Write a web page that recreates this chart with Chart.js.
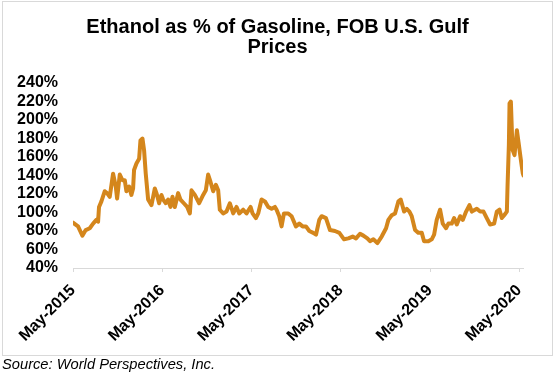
<!DOCTYPE html>
<html>
<head>
<meta charset="utf-8">
<script src="https://cdn.jsdelivr.net/npm/chart.js@4.4.1/dist/chart.umd.min.js"></script>
<style>
    body { margin: 0; background: #fff; }
    #wrap { position: relative; width: 559px; height: 374px; font-family: "Liberation Sans", Arial, sans-serif; }
    #box { position: absolute; left: 2px; top: 1px; width: 549px; height: 353px; border: 1px solid #d9d9d9; }
    #title { position: absolute; left: 2px; width: 551px; top: 16px; text-align: center; font-weight: bold; font-size: 20px; line-height: 20px; color: #000; }
    #source { position: absolute; left: 2px; top: 356px; font-style: italic; font-size: 14.7px; line-height: 17px; color: #000; }
    canvas { position: absolute; left: 0; top: 0; }
</style>
</head>
<body>
<div id="wrap">
    <div id="box"></div>
    <canvas id="chart" width="559" height="374"></canvas>
    <div id="title">Ethanol as % of Gasoline, FOB U.S. Gulf<br>Prices</div>
    <div id="source">Source: World Perspectives, Inc.</div>
</div>
<script>
// months after May 2015
const months = [
    0.0, 0.68, 1.26, 1.71, 2.25, 2.70, 3.14, 3.37, 3.50, 3.82, 4.27, 4.58, 4.94, 5.39, 5.75, 5.93,
    6.29, 6.64, 6.96, 7.18, 7.54, 7.85, 8.08, 8.21, 8.53, 8.89, 9.07, 9.34, 9.56, 9.78, 10.10, 10.55,
    11.00, 11.22, 11.58, 11.89, 12.12, 12.48, 12.79, 13.11, 13.37, 13.69, 14.14, 14.45, 14.90, 15.35,
    15.71, 15.93, 16.38, 16.96, 17.50, 17.86, 18.17, 18.49, 18.85, 19.21, 19.52, 19.74, 20.19, 20.64,
    21.09, 21.54, 21.99, 22.35, 22.88, 23.33, 23.87, 24.14, 24.59, 24.90, 25.35, 25.80, 26.25, 26.70,
    27.15, 27.37, 27.73, 28.04, 28.36, 28.94, 29.39, 29.97, 30.42, 30.87, 31.32, 31.77, 32.30, 32.67,
    33.11, 33.43, 34.01, 34.55, 35.22, 35.81, 36.44, 37.02, 37.60, 38.05, 38.59, 39.04, 39.57, 39.93,
    40.38, 40.92, 41.50, 42.09, 42.40, 42.85, 43.30, 43.75, 44.06, 44.51, 44.87, 45.23, 45.54, 45.99,
    46.44, 46.89, 47.20, 47.78, 48.23, 48.55, 48.90, 49.35, 49.71, 50.16, 50.47, 50.92, 51.24, 51.60,
    52.05, 52.40, 52.85, 53.30, 53.62, 54.29, 54.74, 55.19, 55.63, 56.08, 56.62, 56.98, 57.34, 57.65,
    57.97, 58.33, 58.42, 58.60, 58.69, 58.87, 59.09, 59.36, 59.68, 59.90, 60.21, 60.48, 60.57
]

// ethanol price as % of gasoline
const ratio = [
    89, 85, 75, 81, 83, 88, 92, 90, 106, 112, 123, 121, 117, 142, 128, 115,
    141, 135, 135, 123, 128, 119, 126, 146, 153, 158, 178, 180, 167, 142, 114, 108,
    126, 121, 110, 119, 114, 110, 114, 106, 117, 106, 121, 114, 110, 106,
    99, 124, 119, 110, 119, 124, 141, 133, 123, 130, 124, 103, 99, 101,
    110, 99, 106, 99, 103, 99, 106, 99, 94, 99, 114, 112, 106, 104,
    106, 103, 96, 85, 99, 99, 96, 85, 88, 85, 85, 80, 78, 76,
    92, 96, 94, 81, 80, 78, 71, 72, 74, 72, 77, 75, 72, 69,
    71, 67, 74, 83, 92, 97, 99, 112, 114, 101, 104, 101, 96, 81,
    78, 78, 69, 69, 71, 76, 92, 103, 88, 83, 88, 88, 94, 87,
    96, 92, 101, 108, 101, 104, 101, 101, 94, 87, 88, 101, 103, 94,
    97, 101, 128, 173, 218, 220, 168, 162, 189, 176, 157, 142, 140
]

const tickMonths = [0, 12, 24, 36, 48, 60]
const tickLabels = ['May-2015', 'May-2016', 'May-2017', 'May-2018', 'May-2019', 'May-2020']

const points = months.map((m, i) => ({ x: m, y: ratio[i] }))

const ctx = document.getElementById('chart').getContext('2d')
new Chart(ctx, {
    type: 'line',
    data: {
        datasets: [{
            label: 'Ethanol as % of Gasoline',
            data: points,
            borderColor: '#D4861C',
            borderWidth: 4,
            pointRadius: 0,
            tension: 0,
            fill: false,
            borderJoinStyle: 'round',
            borderCapStyle: 'round'
        }]
    },
    options: {
        responsive: false,
        animation: false,
        layout: {
            padding: { top: 83, right: 36, left: 0, bottom: 0 }
        },
        plugins: {
            legend: { display: false },
            tooltip: { enabled: false }
        },
        scales: {
            x: {
                type: 'linear',
                min: 0,
                max: 60.5,
                afterBuildTicks: scale => {
                    scale.ticks = tickMonths.map(v => ({ value: v }))
                },
                afterFit: scale => {
                    scale.height = 106
                },
                border: { display: true, color: '#d9d9d9', width: 1 },
                grid: {
                    display: true,
                    drawOnChartArea: false,
                    color: '#d9d9d9',
                    tickLength: 4
                },
                ticks: {
                    autoSkip: false,
                    maxRotation: 45,
                    minRotation: 45,
                    padding: 9,
                    color: '#000',
                    font: { family: '"Liberation Sans", Arial, sans-serif', size: 16, weight: 'bold' },
                    callback: v => tickLabels[tickMonths.indexOf(v)]
                }
            },
            y: {
                min: 40,
                max: 240,
                afterFit: scale => {
                    scale.width = 73
                },
                border: { display: false },
                grid: { display: false, drawTicks: false },
                ticks: {
                    stepSize: 20,
                    autoSkip: false,
                    padding: 15,
                    color: '#000',
                    font: { family: '"Liberation Sans", Arial, sans-serif', size: 16, weight: 'bold' },
                    callback: v => v + '%'
                }
            }
        }
    }
})
</script>
</body>
</html>
